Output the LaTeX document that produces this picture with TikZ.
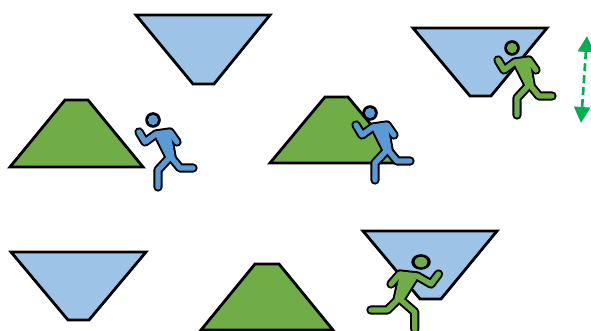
\documentclass[tikz,border=0pt]{standalone}
\usetikzlibrary{arrows.meta}
\definecolor{trapblue}{HTML}{9DC3E6}
\definecolor{trapgreen}{HTML}{70AD47}
\definecolor{runblue}{HTML}{5B9BD5}
\definecolor{arrowgreen}{HTML}{00B050}
\tikzset{
  trap/.style={draw=black,line width=2.1pt,line join=miter},
  bluetrap/.style={trap,fill=trapblue},
  greentrap/.style={trap,fill=trapgreen},
  limb/.style={line cap=round,line join=round},
  pics/runner/.style={code={
    \fill[black] (0,0) circle (7.8);
    \fill[#1] (0,0) circle (5.1);
    \foreach \w/\c in {7pt/black,4pt/#1}{
      \draw[limb,line width=\w,color=\c] (-14,12) -- (-8,22) -- (3,14) -- (17,12) -- (24,22);
      \draw[limb,line width=\w,color=\c] (18,37) -- (27,48) -- (40,48);
      \draw[limb,line width=\w,color=\c] (17,37) -- (5,50) -- (5,67);
      \draw[limb,line width=\w,color=\c,fill=\c] (5,15) -- (15,14) -- (19,37) -- (16,37) -- cycle;
    }
  }}
}
\begin{document}
\begin{tikzpicture}[x=0.75pt,y=-0.75pt]
\useasboundingbox (0,0) rectangle (591,331);
\fill[white] (0,0) rectangle (591,331);
\draw[bluetrap] (136,15) -- (270,15) -- (214,84) -- (193,84) -- cycle;
\draw[bluetrap] (413,28) -- (547,28) -- (491,96) -- (470,96) -- cycle;
\draw[bluetrap] (11,252) -- (146,252) -- (89,320) -- (68,320) -- cycle;
\draw[bluetrap] (363,231) -- (497,231) -- (441,299) -- (420,299) -- cycle;
\draw[greentrap] (10,167) -- (65,100) -- (88,100) -- (143,167) -- cycle;
\draw[greentrap] (270,163) -- (325,97) -- (348,97) -- (403,163) -- cycle;
\draw[greentrap] (201,330) -- (255,264) -- (279,264) -- (333,330) -- cycle;
\pic at (153,120) {runner=runblue};
\pic at (370,113) {runner=runblue};
\pic at (512,48) {runner=trapgreen};
\pic[xscale=-1.25] at (421,262) {runner=trapgreen};
\coordinate (arrowtop) at (587,36);
\coordinate (arrowbottom) at (581,123);
\draw[arrowgreen,line width=2pt,dash pattern=on 6pt off 3pt,{Triangle[width=12pt,length=12pt]}-{Triangle[width=12pt,length=12pt]}] (arrowtop) -- (arrowbottom);
\end{tikzpicture}
\end{document}
